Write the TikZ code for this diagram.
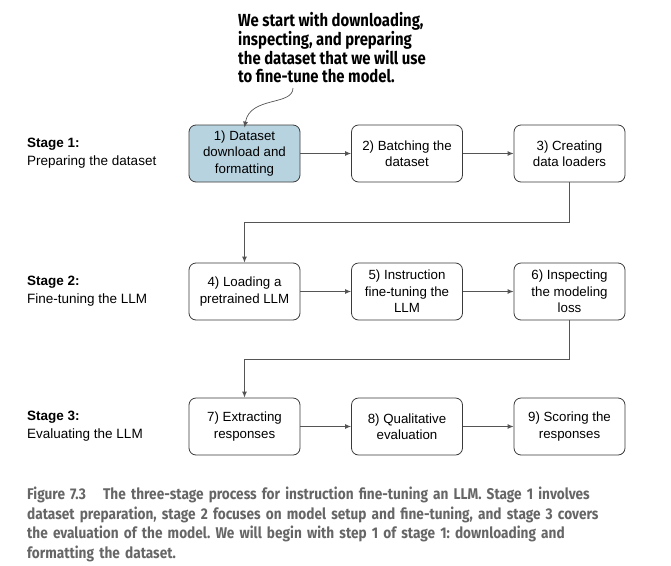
\documentclass[tikz,border=0pt]{standalone}
\usepackage{fontspec}
\setmainfont{Liberation Sans}
\newfontfamily\calloutfont[FakeStretch=0.85]{Fira Sans Bold}
\newfontfamily\captfont[FakeStretch=0.88]{Fira Sans Bold}
\usetikzlibrary{arrows.meta}
\definecolor{boxline}{HTML}{3A3A3A}
\definecolor{connline}{HTML}{555555}
\definecolor{bluefill}{HTML}{B8D3E0}
\definecolor{captgray}{HTML}{666666}
\frenchspacing
\begin{document}
\begin{tikzpicture}[x=1pt,y=-1pt,
  stepbox/.style={draw=boxline,line width=0.8pt,rounded corners=7pt,minimum width=111pt,minimum height=57pt,align=center,inner sep=2pt,font=\fontsize{13.3}{16.5}\selectfont},
  conn/.style={draw=connline,line width=0.9pt,-{Latex[length=6pt,width=5pt]}},
  stagelbl/.style={anchor=west,align=left,font=\fontsize{13.5}{18}\selectfont}]
\useasboundingbox (0,0) rectangle (671,565);
% callout
\node[anchor=north west,align=left,inner sep=0pt,font=\calloutfont\fontsize{17.5}{18}\selectfont] (callout) at (238,12)
  {We start with downloading,\\inspecting, and preparing\\the dataset that we will use\\to fine-tune the model.};
% stage labels
\node[stagelbl,inner sep=0pt] (s1) at (27,153.5) {\textbf{Stage 1:}\\Preparing the dataset};
\node[stagelbl,inner sep=0pt] (s2) at (27,291.5) {\textbf{Stage 2:}\\Fine-tuning the LLM};
\node[stagelbl,inner sep=0pt] (s3) at (27,426.5) {\textbf{Stage 3:}\\Evaluating the LLM};
% boxes
\node[stepbox,fill=bluefill] (b1) at (244.5,153.5) {1) Dataset\\download and\\formatting};
\node[stepbox] (b2) at (407,153.5) {2) Batching the\\dataset};
\node[stepbox] (b3) at (569.5,153.5) {3) Creating\\data loaders};
\node[stepbox] (b4) at (244.5,291.5) {4) Loading a\\pretrained LLM};
\node[stepbox] (b5) at (407,291.5) {5) Instruction\\fine-tuning the\\LLM};
\node[stepbox] (b6) at (569.5,291.5) {6) Inspecting\\the modeling\\loss};
\node[stepbox] (b7) at (244.5,426.5) {7) Extracting\\responses};
\node[stepbox] (b8) at (407,426.5) {8) Qualitative\\evaluation};
\node[stepbox] (b9) at (569.5,426.5) {9) Scoring the\\responses};
% connectors
\draw[conn] (b1) -- (b2);
\draw[conn] (b2) -- (b3);
\draw[conn] (b4) -- (b5);
\draw[conn] (b5) -- (b6);
\draw[conn] (b7) -- (b8);
\draw[conn] (b8) -- (b9);
\coordinate (t1) at (569.5,222);
\coordinate (t2) at (244.5,222);
\draw[conn] (b3.south) -- (t1) -- (t2) -- (b4.north);
\coordinate (u1) at (569.5,359);
\coordinate (u2) at (244.5,359);
\draw[conn] (b6.south) -- (u1) -- (u2) -- (b7.north);
% callout arrow
\coordinate (cstart) at (293,88);
\draw[conn,line width=0.7pt] (cstart) .. controls (293,106) and (250,96) .. ([yshift=-3pt]b1.north);
% caption
\node[anchor=north west,align=left,inner sep=0pt,text width=640pt,text=captgray,font=\captfont\fontsize{15.5}{19.5}\selectfont] (cap) at (27,487)
  {Figure 7.3\hspace{1.1em}The three-stage process for instruction fine-tuning an LLM. Stage 1 involves\\
   dataset preparation, stage 2 focuses on model setup and fine-tuning, and stage 3 covers\\
   the evaluation of the model. We will begin with step 1 of stage 1: downloading and\\
   formatting the dataset.};
\end{tikzpicture}
\end{document}
